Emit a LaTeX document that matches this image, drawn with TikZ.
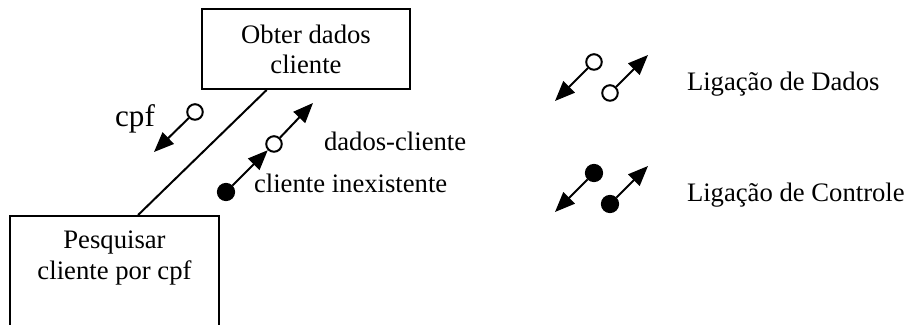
\documentclass[tikz,border=0pt]{standalone}
\usepackage{fontspec}
\setmainfont{Liberation Serif}
\usetikzlibrary{arrows.meta,positioning,calc}

\begin{document}
\begin{tikzpicture}[x=0.45pt,y=-0.45pt,font=\fontsize{12}{13.6}\selectfont,
  >={Triangle[length=9pt,width=7.2pt]},line width=0.9pt]
 \tikzset{
  proc/.style={draw,rectangle,minimum width=93.6pt,minimum height=36pt,inner sep=0pt,align=center},
  dflow/.style={draw,circle,fill=white,minimum size=7pt,inner sep=0pt},
  cflow/.style={draw,circle,fill=black,minimum size=7.3pt,inner sep=0pt},
  lab/.style={anchor=west,inner sep=0pt}
 }
 \useasboundingbox (0,0) rectangle (905,325);
 \clip (0,0) rectangle (905,325);
 % modules
 \node[proc] (obter) at (306,49) {Obter dados\\cliente};
 \node[proc,minimum width=94pt,minimum height=63pt,anchor=north] (pesq) at (114.5,215) {};
 \node[align=center] (pesqtxt) at (114.5,258) {Pesquisar\\cliente por cpf};
 \draw ($(obter.south west)!0.3125!(obter.south east)$) -- ($(pesq.north west)!0.612!(pesq.north east)$);
 % couples
 \node[dflow] (cpfc) at (195,112) {};
 \coordinate (cpft) at (154,152);
 \draw[->] (cpfc) -- (cpft);
 \node[font=\fontsize{14}{16}\selectfont] (cpf) at (135,119) {cpf};
 \node[dflow] (dadosc) at (274,144) {};
 \coordinate (dadost) at (313,103);
 \draw[->] (dadosc) -- (dadost);
 \node[lab] (dados) at (323,141) {dados-cliente};
 \node[cflow] (inex) at (226,192) {};
 \draw[->] (inex) -- (dadosc);
 \node[lab] (inexl) at (253,183) {cliente inexistente};
 % legend
 \foreach \sty/\dy/\name/\txt in {dflow/0/ld/{Ligação de Dados},cflow/111/lc/{Ligação de Controle}} {
  \node[\sty] (\name a) at (594,62+\dy) {};
  \coordinate (\name at) at (555,101+\dy);
  \node[\sty] (\name b) at (610,93+\dy) {};
  \coordinate (\name bt) at (648,55+\dy);
  \draw[->] (\name a) -- (\name at);
  \draw[->] (\name b) -- (\name bt);
  \node[lab] (\name l) at (686,84+\dy) {\txt};
 }
\end{tikzpicture}
\end{document}
